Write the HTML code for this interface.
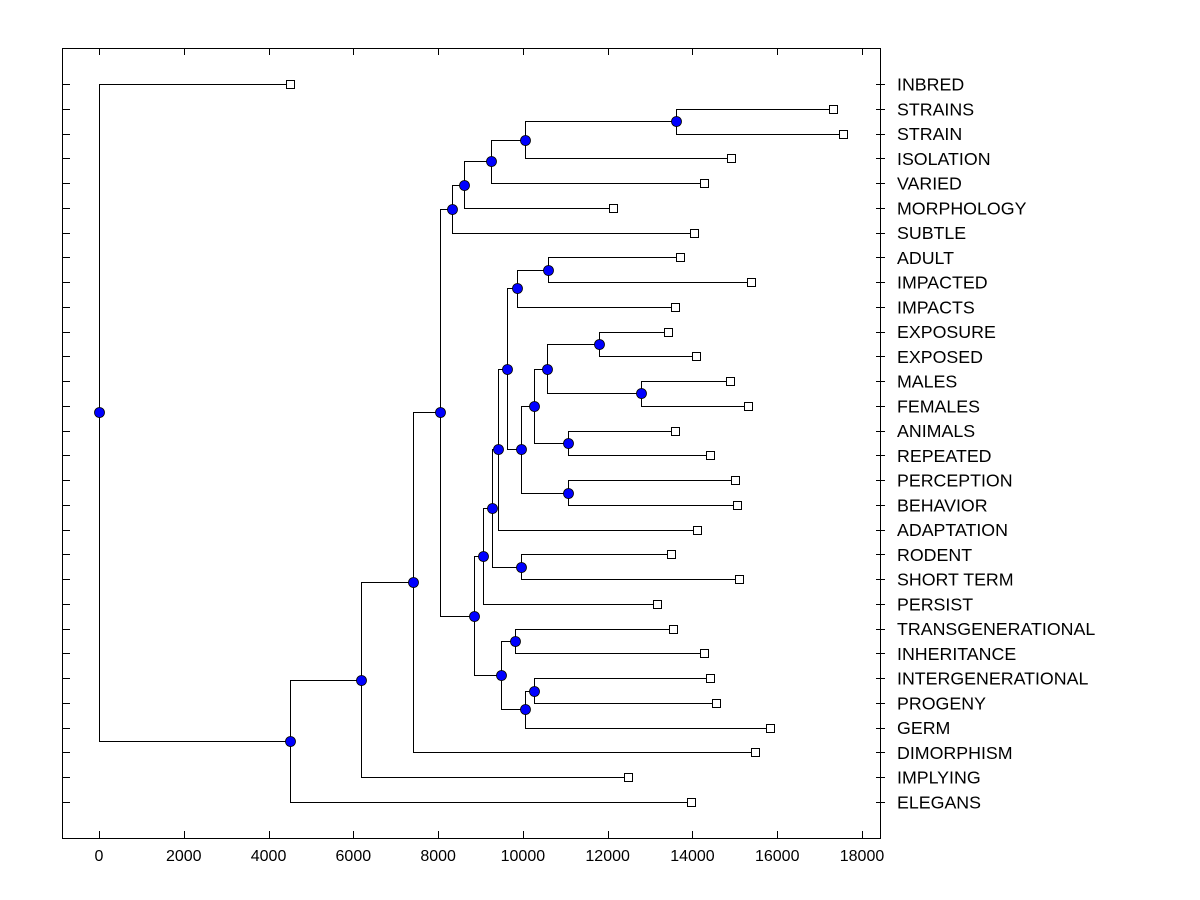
<!DOCTYPE html>
<html><head><meta charset="utf-8"><style>
body{margin:0;background:#fff}
svg{display:block}
text{font-family:"Liberation Sans",Arial,sans-serif;font-size:16px;fill:#000}
text.leaf{font-size:17.8px}
</style></head><body>
<svg id="chart" width="1200" height="900" xmlns="http://www.w3.org/2000/svg">
<rect x="62.5" y="48.5" width="818" height="790" fill="none" stroke="#000" stroke-width="1"/>
<g id="axes"></g><g id="links"></g><g id="marks"></g>
</svg>
<script>
const leafNames = ["INBRED","STRAINS","STRAIN","ISOLATION","VARIED","MORPHOLOGY","SUBTLE","ADULT","IMPACTED","IMPACTS","EXPOSURE","EXPOSED","MALES","FEMALES","ANIMALS","REPEATED","PERCEPTION","BEHAVIOR","ADAPTATION","RODENT","SHORT TERM","PERSIST","TRANSGENERATIONAL","INHERITANCE","INTERGENERATIONAL","PROGENY","GERM","DIMORPHISM","IMPLYING","ELEGANS"];
const leafValues = [4506,17316,17551,14909,14272,12126,14036,13706,15381,13588,13423,14084,14886,15310,13588,14414,15003,15051,14107,13494,15098,13164,13541,14272,14414,14555,15829,15475,12479,13965];
const nodeIds =    ["root","A","B","C","D","E","G","H","I","J","F","K","M","O","N","P","Q","S","R","T","V","X","Y","W","U","L","Z","AA","AB"];
const nodeValues = [0,4506,6181,7407,8044,8327,8611,9248,10050,13612,8846,9059,9271,9955,9413,9625,9861,10592,9955,10262,10569,11795,12786,11064,11064,9484,9814,10050,10262];
const nodeLeft =   ["INBRED","B","C","D","E","G","H","I","J","STRAINS","K","M","N","RODENT","P","Q","S","ADULT","T","V","X","EXPOSURE","MALES","ANIMALS","PERCEPTION","Z","TRANSGENERATIONAL","AB","INTERGENERATIONAL"];
const nodeRight =  ["A","ELEGANS","IMPLYING","DIMORPHISM","F","SUBTLE","MORPHOLOGY","VARIED","ISOLATION","STRAIN","L","PERSIST","O","SHORT TERM","ADAPTATION","R","IMPACTS","IMPACTED","U","W","Y","EXPOSED","FEMALES","REPEATED","BEHAVIOR","AA","INHERITANCE","GERM","PROGENY"];
const xTicks = [0,2000,4000,6000,8000,10000,12000,14000,16000,18000];

const NS="http://www.w3.org/2000/svg";
const X0=99, KX=(862-99)/18000;
const xs=v=>X0+v*KX;
const ys=i=>84+i*(802-84)/29;
function mk(tag,attrs,parent){const e=document.createElementNS(NS,tag);for(const k in attrs)e.setAttribute(k,attrs[k]);document.getElementById(parent).appendChild(e);return e;}

xTicks.forEach(t=>{
  const x=Math.round(xs(t))+0.5;
  const a=mk('line',{x1:x,x2:x,y1:838,y2:831,stroke:'#000'},'axes');
  
  
  const b=mk('line',{x1:x,x2:x,y1:48,y2:55,stroke:'#000'},'axes');
  
  
  const l=mk('text',{x:xs(t),y:861,'text-anchor':'middle'},'axes');
  l.textContent=t;
  
  
});
leafNames.forEach((n,i)=>{
  const y=Math.round(ys(i))+0.5;
  const a=mk('line',{x1:62,x2:70,y1:y,y2:y,stroke:'#000'},'axes');
  
  
  const b=mk('line',{x1:876,x2:885,y1:y,y2:y,stroke:'#000'},'axes');
  
  
  const l=mk('text',{x:897,y:ys(i)+6.5,'class':'leaf'},'axes');
  l.textContent=n;
  
  
});

const pos={};
leafNames.forEach((n,i)=>{pos[n]={x:xs(leafValues[i]),y:ys(i)};});
function resolve(id){
  if(pos[id])return pos[id];
  const k=nodeIds.indexOf(id);
  const a=resolve(nodeLeft[k]),b=resolve(nodeRight[k]);
  pos[id]={x:xs(nodeValues[k]),y:(a.y+b.y)/2};
  return pos[id];
}
nodeIds.forEach(id=>resolve(id));
nodeIds.forEach((id,k)=>{
  const p=pos[id],a=pos[nodeLeft[k]],b=pos[nodeRight[k]];
  const px=Math.round(p.x)+0.5;
  const path=mk('path',{d:`M${Math.round(a.x)} ${Math.round(a.y)+0.5}H${px}V${Math.round(b.y)+0.5}H${Math.round(b.x)}`,fill:'none',stroke:'#000','stroke-width':1},'links');
  
  
});
leafNames.forEach(n=>{
  const p=pos[n];
  const r=mk('rect',{x:Math.round(p.x)-3.5,y:Math.round(p.y)-3.5,width:8,height:8,fill:'#fff',stroke:'#000'},'marks');
  
  
});
nodeIds.forEach(id=>{
  const p=pos[id];
  const c=mk('circle',{cx:Math.round(p.x)+0.5,cy:Math.round(p.y)+0.5,r:5,fill:'#0000ff',stroke:'#000','stroke-width':0.8},'marks');
  
  
});
</script>
</body></html>
